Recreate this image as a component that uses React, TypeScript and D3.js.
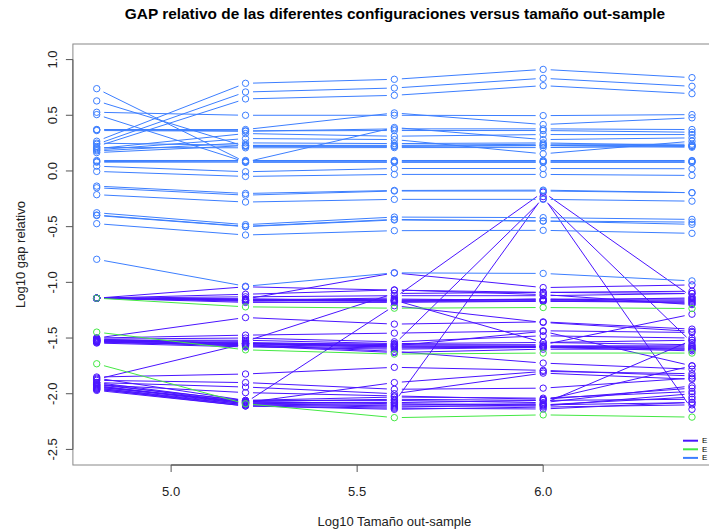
import React from "react";
import * as d3 from "d3";

const X_VALUES = [4.8, 5.2, 5.6, 6.0, 6.4];
const X_TICKS = [5.0, 5.5, 6.0];
const Y_TICKS = [-2.5, -2.0, -1.5, -1.0, -0.5, 0.0, 0.5, 1.0];
const SERIES_NAMES = ["E", "E", "E"];
const SERIES_COLORS = ["#4A14FF", "#44E844", "#3C7EFF"];

const PURPLE_LINES = [
  [-1.142, -1.04, -1.07, -1.09, -1.08],
  [-1.142, -1.15, -0.915, -1.047, -1.023],
  [-1.142, -1.16, -1.14, -0.19, -1.13],
  [-1.142, -1.15, -1.16, -1.16, -1.16],
  [-1.142, -1.16, -1.17, -1.17, -1.17],
  [-1.142, -1.17, -1.16, -1.15, -1.15],
  [-1.142, -1.16, -1.15, -1.16, -1.14],
  [-1.142, -1.18, -1.18, -1.17, -1.18],
  [-1.142, -1.13, -1.12, -1.12, -1.10],
  [-1.142, -1.107, -1.068, -1.11, -1.2],
  [-1.142, -1.16, -1.17, -1.15, -1.19],
  [-1.142, -1.15, -1.16, -1.54, -1.56],
  [-1.5, -1.316, -1.375, -1.355, -1.42],
  [-1.52, -1.53, -1.10, -1.09, -1.10],
  [-1.52, -1.55, -1.555, -0.25, -1.54],
  [-1.5, -1.474, -1.456, -1.435, -1.45],
  [-1.51, -1.5, -1.534, -1.48, -1.5],
  [-1.52, -1.52, -1.55, -1.54, -1.52],
  [-1.53, -1.54, -1.56, -1.56, -1.286],
  [-1.53, -1.55, -1.57, -1.57, -1.57],
  [-1.54, -1.56, -1.58, -1.575, -1.58],
  [-1.535, -1.57, -1.59, -1.58, -1.6],
  [-1.545, -1.58, -1.6, -1.584, -1.615],
  [-1.52, -1.56, -1.62, -1.725, -1.78],
  [-1.53, -1.57, -1.63, -1.6, -1.6],
  [-1.51, -1.55, -1.57, -1.44, -1.75],
  [-1.87, -1.55, -1.58, -1.58, -1.59],
  [-1.85, -1.823, -1.763, -1.79, -1.84],
  [-1.88, -1.9, -1.96, -1.95, -1.86],
  [-1.9, -1.94, -2.0, -1.815, -1.87],
  [-1.92, -1.99, -2.02, -2.05, -1.95],
  [-1.93, -2.08, -1.21, -1.36, -1.44],
  [-1.94, -2.08, -2.077, -0.23, -2.14],
  [-1.95, -2.09, -2.08, -2.06, -1.75],
  [-1.96, -2.1, -2.1, -2.09, -1.52],
  [-1.94, -2.07, -2.05, -2.06, -2.05],
  [-1.95, -2.1, -2.12, -2.1, -2.08],
  [-1.96, -2.11, -2.14, -2.12, -2.1],
  [-1.97, -2.11, -2.13, -2.137, -2.077],
  [-1.93, -2.09, -2.11, -2.11, -2.0],
  [-1.92, -2.06, -2.06, -2.08, -1.93],
  [-1.9, -2.07, -2.09, -2.1, -2.03],
  [-1.86, -2.06, -2.03, -2.04, -1.98],
  [-1.91, -2.08, -1.9, -1.8, -1.82],
];

const GREEN_LINES = [
  [-1.142, -1.22, -1.232, -1.226, -1.235],
  [-1.447, -1.606, -1.644, -1.635, -1.635],
  [-1.731, -2.09, -2.215, -2.19, -2.21],
];

const BLUE_LINES = [
  [0.739, 0.08, 0.39, 0.282, 0.297],
  [0.629, 0.22, 0.222, 0.228, 0.228],
  [0.527, 0.5, 0.5, 0.497, 0.506],
  [0.506, 0.08, 0.079, 0.079, 0.079],
  [0.372, 0.372, 0.521, 0.417, 0.477],
  [0.363, 0.357, 0.378, 0.378, 0.372],
  [0.37, 0.36, 0.363, 0.363, 0.348],
  [0.267, 0.787, 0.823, 0.912, 0.838],
  [0.24, 0.709, 0.745, 0.832, 0.76],
  [0.22, 0.647, 0.679, 0.766, 0.694],
  [0.2, 0.336, 0.312, 0.327, 0.327],
  [0.19, 0.291, 0.282, 0.154, 0.267],
  [0.18, 0.252, 0.246, 0.252, 0.228],
  [0.165, 0.228, 0.222, 0.228, 0.213],
  [0.21, 0.208, 0.21, 0.21, 0.22],
  [0.25, 0.23, 0.23, 0.24, 0.24],
  [0.094, 0.094, 0.094, 0.094, 0.094],
  [0.085, 0.088, 0.088, 0.088, 0.088],
  [0.079, 0.079, 0.079, 0.079, 0.079],
  [0.043, -0.007, 0.022, 0.022, 0.02],
  [-0.004, -0.049, -0.031, -0.031, -0.04],
  [-0.136, -0.202, -0.175, -0.172, -0.195],
  [-0.151, -0.217, -0.18, -0.18, -0.195],
  [-0.213, -0.279, -0.255, -0.255, -0.271],
  [-0.375, -0.482, -0.414, -0.419, -0.435],
  [-0.396, -0.497, -0.435, -0.449, -0.459],
  [-0.4, -0.5, -0.44, -0.45, -0.479],
  [-0.473, -0.575, -0.536, -0.533, -0.56],
  [-0.793, -1.035, -0.915, -0.92, -0.987],
];

const W = 709;
const H = 531;
const FONT = "'Liberation Sans', Arial, Helvetica, sans-serif";

export default function App() {
  const x = d3.scaleLinear().domain([4.736, 6.464]).range([72.9, 715.8]);
  const y = d3.scaleLinear().domain([-2.64, 1.14]).range([465, 44]);
  const left = x.range()[0];
  const right = x.range()[1];
  const top = y.range()[1];
  const bottom = y.range()[0];
  const GAP = 7.5;
  const R = 3.2;

  const groups = [
    { lines: PURPLE_LINES, color: SERIES_COLORS[0] },
    { lines: GREEN_LINES, color: SERIES_COLORS[1] },
    { lines: BLUE_LINES, color: SERIES_COLORS[2] },
  ];

  const segs = (vals: number[]) => {
    const out: string[] = [];
    for (let i = 0; i < vals.length - 1; i++) {
      const x1 = x(X_VALUES[i]), y1 = y(vals[i]);
      const x2 = x(X_VALUES[i + 1]), y2 = y(vals[i + 1]);
      const dx = x2 - x1, dy = y2 - y1;
      const d = Math.sqrt(dx * dx + dy * dy);
      if (d <= 2 * GAP) continue;
      const ux = dx / d, uy = dy / d;
      const p = d3.path();
      p.moveTo(x1 + ux * GAP, y1 + uy * GAP);
      p.lineTo(x2 - ux * GAP, y2 - uy * GAP);
      out.push(p.toString());
    }
    return out.join("");
  };

  return (
    <svg
      width={W}
      height={H}
      style={{ position: "absolute", left: 0, top: 0, background: "#fff" }}
      fontFamily={FONT}
    >
      <rect x={0} y={0} width={W} height={H} fill="#fff" />
      <text x={395} y={13} textAnchor="middle" dominantBaseline="central" fontSize={15.4} fontWeight="bold" fill="#000">
        GAP relativo de las diferentes configuraciones versus tamaño out-sample
      </text>

      <clipPath id="plotclip">
        <rect x={left} y={top} width={right - left} height={bottom - top} />
      </clipPath>

      <g clipPath="url(#plotclip)">
        {groups.map((g, gi) => (
          <g key={gi}>
            {g.lines.map((vals, li) => (
              <g key={li}>
                <path d={segs(vals)} fill="none" stroke={g.color} strokeWidth={1} />
                {vals.map((v, i) => (
                  <circle key={i} cx={x(X_VALUES[i])} cy={y(v)} r={R} fill="none" stroke={g.color} strokeWidth={1} />
                ))}
              </g>
            ))}
          </g>
        ))}
      </g>

      {/* frame */}
      <rect x={left} y={top} width={right - left} height={bottom - top} fill="none" stroke="#888" strokeWidth={1} />

      {/* y axis */}
      <line x1={left} x2={left} y1={y(Y_TICKS[0])} y2={y(Y_TICKS[Y_TICKS.length - 1])} stroke="#555" strokeWidth={1} />
      {Y_TICKS.map((t) => (
        <g key={t}>
          <line x1={left - 7} x2={left} y1={y(t)} y2={y(t)} stroke="#555" strokeWidth={1} />
          <text
            transform={`translate(52,${y(t)}) rotate(-90)`}
            textAnchor="middle"
            dominantBaseline="central"
            fontSize={13}
            fill="#222"
          >
            {t.toFixed(1)}
          </text>
        </g>
      ))}
      <text transform={`translate(20,${(top + bottom) / 2}) rotate(-90)`} textAnchor="middle" dominantBaseline="central" fontSize={13} fill="#222">
        Log10 gap relativo
      </text>

      {/* x axis */}
      <line x1={x(X_TICKS[0])} x2={x(X_TICKS[X_TICKS.length - 1])} y1={bottom} y2={bottom} stroke="#333" strokeWidth={1} />
      {X_TICKS.map((t) => (
        <g key={t}>
          <line x1={x(t)} x2={x(t)} y1={bottom} y2={bottom + 7} stroke="#555" strokeWidth={1} />
          <text x={x(t)} y={491} textAnchor="middle" dominantBaseline="central" fontSize={13} fill="#222">
            {t.toFixed(1)}
          </text>
        </g>
      ))}
      <text x={(left + right) / 2} y={521} textAnchor="middle" dominantBaseline="central" fontSize={13} fill="#222">
        Log10 Tamaño out-sample
      </text>

      {/* legend */}
      {SERIES_COLORS.map((c, i) => (
        <g key={i}>
          <line x1={683} x2={698} y1={440.7 + i * 8.6} y2={440.7 + i * 8.6} stroke={c} strokeWidth={2} />
          <text x={702} y={440.7 + i * 8.6} dominantBaseline="central" fontSize={8} fill="#000">
            {SERIES_NAMES[i]}
          </text>
        </g>
      ))}
    </svg>
  );
}
